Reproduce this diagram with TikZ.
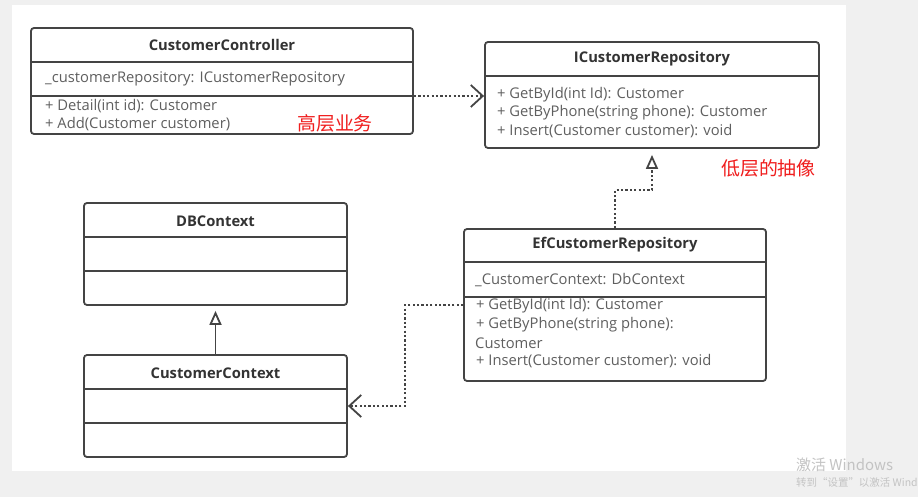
\documentclass[tikz,border=0pt]{standalone}
\usepackage{fontspec}
\setmainfont{Open Sans}
\newfontfamily\cjk{Noto Sans CJK SC}
\usetikzlibrary{arrows.meta, positioning}
\definecolor{pagegray}{RGB}{240, 240, 240}
\definecolor{boxline}{RGB}{68, 68, 68}
\definecolor{titlegray}{RGB}{51, 51, 51}
\definecolor{textgray}{RGB}{95, 95, 95}
\definecolor{notered}{RGB}{240, 30, 30}
\definecolor{markgray}{RGB}{195, 195, 195}
\newcommand{\titlefont}{\fontsize{14.8}{17}\selectfont\bfseries}
\newcommand{\memberfont}{\fontsize{14.8}{17}\selectfont}
\tikzset{
    classbox/.style={rectangle, draw=boxline, line width=1.8bp, rounded corners=3bp,
                     fill=white, inner sep=0pt},
    sepline/.style={draw=boxline, line width=1.8bp},
    titletext/.style={font=\titlefont, text=titlegray, inner sep=0pt},
    membertext/.style={font=\memberfont, text=textgray, anchor=west, inner sep=0pt},
    notetext/.style={font=\cjk\fontsize{19}{22}\selectfont, text=notered, anchor=west, inner sep=0pt},
    dotline/.style={draw=boxline, line width=2bp, dash pattern=on 2.2bp off 2.2bp},
    depend/.style={dotline, -{Straight Barb[length=12bp, width=22bp, line width=1.8bp]}},
    realize/.style={dotline, -{Triangle[open, length=14bp, width=12bp, line width=1.8bp, fill=white]}, shorten >=6bp},
    inherit/.style={draw=boxline, line width=1.8bp, -{Triangle[open, length=14bp, width=12bp, fill=white]}, shorten >=5bp},
}

\begin{document}
\begin{tikzpicture}[x=1bp, y=-1bp]
    % page and panel
    \useasboundingbox[fill=pagegray] (0,0) rectangle (918,497);
    \fill[white] (12,5) rectangle (846,471);

    % CustomerController
    \node[classbox, minimum width=382bp, minimum height=106bp] (ctrl) at (222,81) {};
    \draw[sepline] (ctrl.west |- 0,62) -- (ctrl.east |- 0,62);
    \draw[sepline] (ctrl.west |- 0,96) -- (ctrl.east |- 0,96);
    \node[titletext] (ctrlname) at (222,45) {CustomerController};
    \node[membertext] (ctrlattr) at (45,79) {\_customerRepository: ICustomerRepository};
    \node[membertext] (ctrlm1) at (45,106) {+ Detail(int id): Customer};
    \node[membertext] (ctrlm2) at (45,124) {+ Add(Customer customer)};

    % ICustomerRepository
    \node[classbox, minimum width=334bp, minimum height=106bp] (icr) at (652,95) {};
    \draw[sepline] (icr.west |- 0,76) -- (icr.east |- 0,76);
    \node[titletext] (icrname) at (652,59) {ICustomerRepository};
    \node[membertext] (icrm1) at (497,95) {+ GetById(int Id): Customer};
    \node[membertext] (icrm2) at (497,113) {+ GetByPhone(string phone): Customer};
    \node[membertext] (icrm3) at (497,131) {+ Insert(Customer customer): void};

    % DBContext
    \node[classbox, minimum width=263bp, minimum height=102bp] (dbc) at (215.5,254) {};
    \draw[sepline] (dbc.west |- 0,237) -- (dbc.east |- 0,237);
    \draw[sepline] (dbc.west |- 0,271) -- (dbc.east |- 0,271);
    \node[titletext] (dbcname) at (215.5,221) {DBContext};

    % CustomerContext
    \node[classbox, minimum width=263bp, minimum height=102bp] (ctx) at (215.5,406) {};
    \draw[sepline] (ctx.west |- 0,389) -- (ctx.east |- 0,389);
    \draw[sepline] (ctx.west |- 0,423) -- (ctx.east |- 0,423);
    \node[titletext] (ctxname) at (215.5,373) {CustomerContext};

    % EfCustomerRepository
    \node[classbox, minimum width=302bp, minimum height=152bp] (efr) at (615,305) {};
    \draw[sepline] (efr.west |- 0,262) -- (efr.east |- 0,262);
    \draw[sepline] (efr.west |- 0,297) -- (efr.east |- 0,297);
    \node[titletext] (efrname) at (615,245) {EfCustomerRepository};
    \node[membertext] (efrattr) at (475,280) {\_CustomerContext: DbContext};
    \node[membertext] (efrm1) at (476,306) {+ GetById(int Id): Customer};
    \node[membertext] (efrm2) at (476,325) {+ GetByPhone(string phone):};
    \node[membertext] (efrm2b) at (475,343) {Customer};
    \node[membertext] (efrm3) at (476,361) {+ Insert(Customer customer): void};

    % connectors
    \draw[depend] (ctrl.east |- 0,96) -- (icr.west |- 0,96);
    \draw[realize] (efr.north) -- ++(0,-38) -| (icr.south);
    \draw[depend] (efr.west |- 0,305) -| (405,350) |- (ctx.east);
    \draw[inherit] (ctx.north) -- (dbc.south);

    % notes
    \node[notetext] (highnote) at (297,123) {高层业务};
    \node[notetext] (lownote) at (721,168) {低层的抽像};

    % watermark
    \node[font=\cjk\fontsize{15}{18}\selectfont, text=markgray, anchor=west, inner sep=0pt] (mark1) at (796,465) {激活 Windows};
    \node[font=\cjk\fontsize{10.5}{13}\selectfont, text=markgray, anchor=west, inner sep=0pt] (mark2) at (796,483) {转到“设置”以激活 Wind};
\end{tikzpicture}
\end{document}
